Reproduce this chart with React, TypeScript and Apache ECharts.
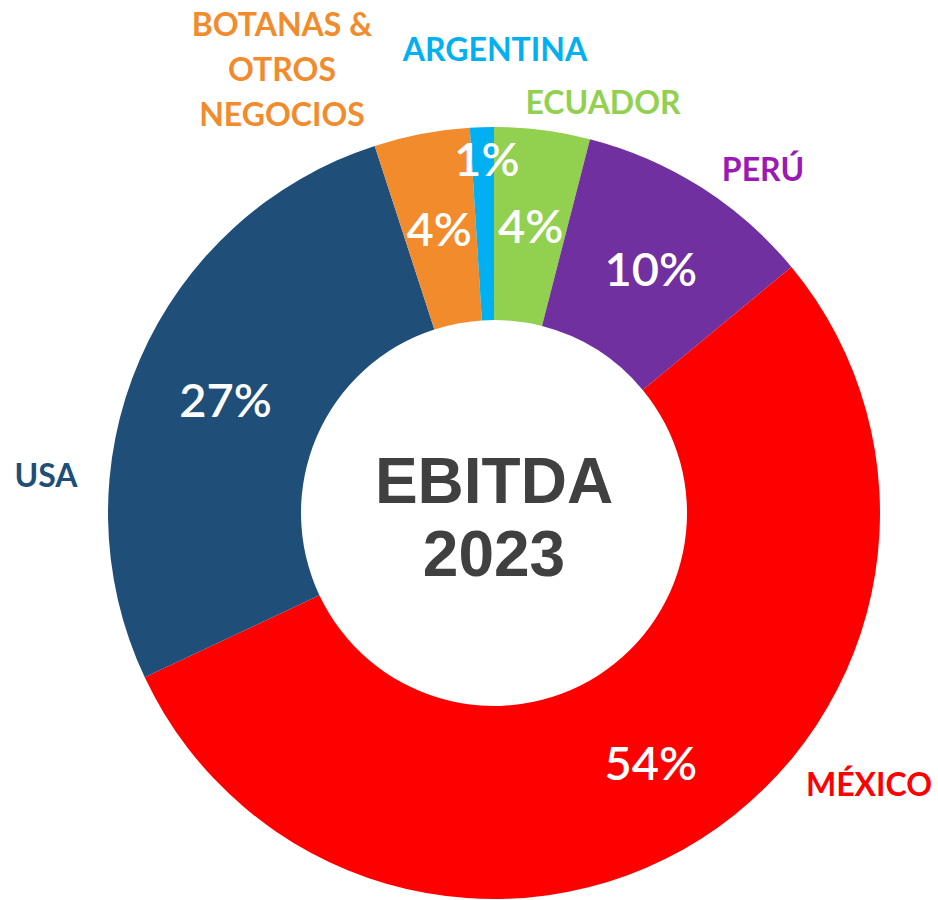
import React, { useEffect, useRef } from "react";
import * as echarts from "echarts";

const categories = ["ECUADOR", "PERÚ", "MÉXICO", "USA", "BOTANAS &\nOTROS\nNEGOCIOS", "ARGENTINA"];
const values = [4, 10, 54, 27, 4, 1];
const sliceColors = ["#92D050", "#7030A0", "#FF0000", "#1F4E79", "#F28B2C", "#00B0F0"];
const labelColors = ["#92D050", "#9B19B5", "#FF0000", "#1F4E79", "#F28B2C", "#00B0F0"];
const centerTitle = "EBITDA\n2023";

// label anchor positions for the outer name labels (layout only)
const nameLabelPos: [number, number][] = [
  [603, 101],
  [763, 168],
  [869, 783],
  [46, 474],
  [282, 68],
  [495, 48],
];

export default function App() {
  const ref = useRef<HTMLDivElement>(null);
  useEffect(() => {
    document.body.style.margin = "0";
    const chart = echarts.init(ref.current!, null, { renderer: "svg" });
    const center = [494, 513];
    const radius = [193, 386];
    const data = categories.map((name, i) => ({
      name,
      value: values[i],
      itemStyle: { color: sliceColors[i] },
    }));
    chart.setOption({
      animation: false,
      backgroundColor: "#ffffff",
      series: [
        {
          type: "pie",
          center,
          radius,
          startAngle: 90,
          clockwise: true,
          silent: true,
          itemStyle: { borderWidth: 0 },
          label: {
            show: true,
            position: "inside",
            formatter: (p: any) => p.value + "%",
            color: "#ffffff",
            fontFamily: "Lato",
            fontWeight: 600,
            fontSize: 47,
          },
          labelLine: { show: false },
          labelLayout: (p: any) => {
            if (p.dataIndex === 5) return { dx: 2, dy: -63 };
            return { dy: 2 };
          },
          data,
        },
        {
          type: "pie",
          center,
          radius,
          startAngle: 90,
          clockwise: true,
          silent: true,
          itemStyle: { color: "transparent", borderWidth: 0 },
          label: {
            show: true,
            position: "outside",
            formatter: (p: any) => p.name,
            fontFamily: "Lato",
            fontWeight: "bold",
            fontSize: 32,
            lineHeight: 45,
            align: "center",
          },
          labelLine: { show: false },
          labelLayout: (p: any) => ({
            x: nameLabelPos[p.dataIndex][0],
            y: nameLabelPos[p.dataIndex][1],
            align: "center",
            verticalAlign: "middle",
          }),
          data: categories.map((name, i) => ({
            name,
            value: values[i],
            label: { color: labelColors[i] },
          })),
        },
      ],
      graphic: [
        {
          type: "text",
          x: 494,
          y: 517,
          style: {
            text: centerTitle,
            align: "center",
            verticalAlign: "middle",
            fontFamily: "Liberation Sans, Arial, sans-serif",
            fontWeight: "bold",
            fontSize: 64,
            lineHeight: 73,
            fill: "#404040",
          },
        },
      ],
    });
    return () => chart.dispose();
  }, []);
  return <div ref={ref} style={{ width: 938, height: 900 }} />;
}
